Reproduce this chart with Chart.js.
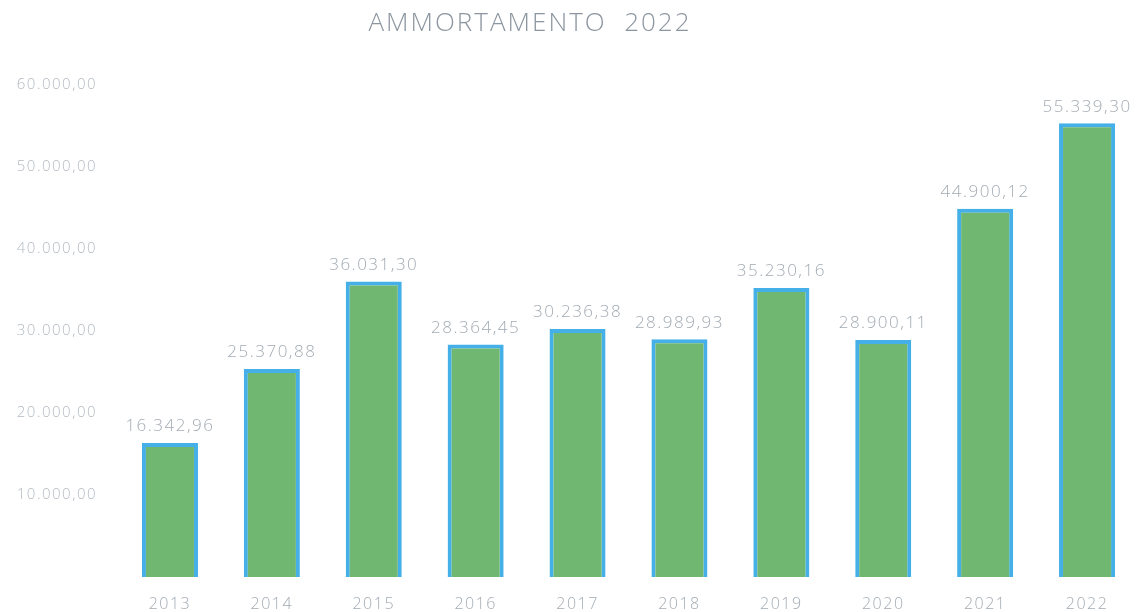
<!DOCTYPE html>
<html><head><meta charset="utf-8">
<script src="https://cdn.jsdelivr.net/npm/chart.js@4/dist/chart.umd.min.js"></script>
<style>html,body{margin:0;padding:0;background:#fff;}#wrap{width:1138px;height:612px;}</style>
</head><body><div id="wrap"><canvas id="c"></canvas></div>
<script>
const titleText = 'AMMORTAMENTO  2022';
const categories = ['2013','2014','2015','2016','2017','2018','2019','2020','2021','2022'];
const values = [16342.96, 25370.88, 36031.30, 28364.45, 30236.38, 28989.93, 35230.16, 28900.11, 44900.12, 55339.30];
const yTicks = [0, 10000, 20000, 30000, 40000, 50000, 60000];

function fmt(v){
  const parts = v.toFixed(2).split('.');
  const int = parts[0].replace(/\B(?=(\d{3})+(?!\d))/g, '.');
  return int + ',' + parts[1];
}

const labelPlugin = {
  id: 'labels',
  beforeInit(chart){ chart.ctx.letterSpacing = '0px'; },
  afterDatasetsDraw(chart){
    const ctx = chart.ctx;
    const meta = chart.getDatasetMeta(0);
    ctx.save();
    ctx.fillStyle = '#a3abb3';
    ctx.font = '300 17px "Open Sans", sans-serif';
    ctx.letterSpacing = '1.5px';
    ctx.textAlign = 'center';
    ctx.textBaseline = 'bottom';
    meta.data.forEach((bar, i) => {
      ctx.fillText(fmt(values[i]), bar.x, bar.y - 8);
    });
    ctx.font = '300 26px "Open Sans", sans-serif';
    ctx.letterSpacing = '2px';
    ctx.fillStyle = '#8c96a0';
    ctx.textBaseline = 'middle';
    ctx.fillText(titleText, 530, 24);
    ctx.restore();
  },
  beforeDraw(chart){ chart.ctx.letterSpacing = '1.5px'; }
};

new Chart(document.getElementById('c'), {
  type: 'bar',
  data: {
    labels: categories,
    datasets: [{
      data: values,
      backgroundColor: '#70b772',
      borderColor: '#45b0e8',
      borderWidth: 4,
      barPercentage: 0.55,
      categoryPercentage: 1.0
    }]
  },
  options: {
    responsive: true,
    maintainAspectRatio: false,
    animation: false,
    layout: { padding: { top: 85, right: 0, left: 0, bottom: 0 } },
    plugins: { legend: { display: false }, tooltip: { enabled: false }, title: { display: false } },
    scales: {
      x: {
        grid: { display: false, drawTicks: false },
        border: { display: false },
        ticks: { color: '#a3abb3', font: { family: '"Open Sans", sans-serif', size: 16, weight: '300' }, padding: 18 },
        afterFit(s){ s.height = 35; }
      },
      y: {
        min: 0, max: 60000,
        afterBuildTicks(s){ s.ticks = yTicks.map(v => ({ value: v })); },
        grid: { display: false, drawTicks: false },
        border: { display: false },
        ticks: {
          color: '#b3bac2',
          font: { family: '"Open Sans", sans-serif', size: 15, weight: '300' },
          padding: 22,
          callback: (v) => v === 0 ? '' : fmt(v)
        },
        afterFit(s){ s.width = 119; }
      }
    }
  },
  plugins: [labelPlugin]
});
</script>
</body></html>
